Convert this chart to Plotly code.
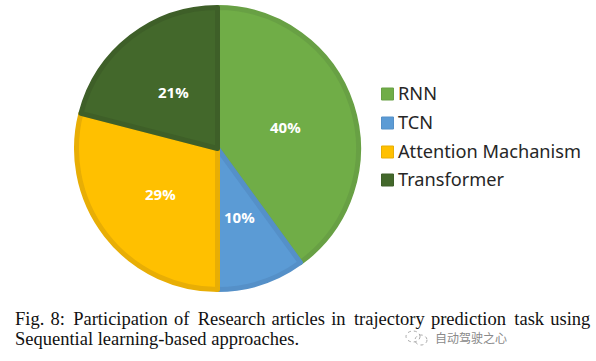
import plotly.graph_objects as go

labels = ["RNN", "TCN", "Attention Machanism", "Transformer"]
values = [40, 10, 29, 21]
fills = ["#70AD47", "#5B9BD5", "#FFC000", "#43682B"]
borders = ["#68A044", "#5590C8", "#E8AE05", "#3E5F28"]
label_pos = [(285, 127), (239, 217), (160, 194), (173, 92)]
legend_y = [94, 123, 152, 180]
caption_1 = "Fig. 8: Participation of Research articles in trajectory prediction task using"
caption_2 = "Sequential learning-based approaches."
watermark = "自动驾驶之心"

W, H = 596, 361
px = lambda x: x / W
py = lambda y: 1 - y / H

CX, CY, R = 217.5, 148.5, 141

fig = go.Figure(go.Pie(
    labels=labels, values=values, sort=False, direction="clockwise", rotation=0,
    marker=dict(colors=fills, line=dict(color=borders, width=5)),
    textinfo="none", hoverinfo="label+percent", showlegend=False,
    domain=dict(x=[px(CX - R), px(CX + R)], y=[py(CY + R), py(CY - R)]),
))

annotations = []
for v, (x, y) in zip(values, label_pos):
    annotations.append(dict(text=f"<b>{v}%</b>", x=px(x), y=py(y), xref="paper", yref="paper",
                            xanchor="center", yanchor="middle", showarrow=False,
                            font=dict(family="Open Sans", size=15, color="white")))
shapes = []
for name, fill, edge, y in zip(labels, fills, borders, legend_y):
    shapes.append(dict(type="rect", xref="paper", yref="paper", x0=px(381.5), x1=px(393.5),
                       y0=py(y + 6), y1=py(y - 6), fillcolor=fill, line=dict(color=edge, width=1)))
    annotations.append(dict(text=name, x=px(396), y=py(y - 1), xref="paper", yref="paper", xanchor="left",
                            yanchor="middle", showarrow=False,
                            font=dict(family="Noto Sans", size=18.2, color="#262626")))

# stretch the word gaps so the first caption line is justified like the reference
words = caption_1.split(" ")
justified = words[0]
for i, word in enumerate(words[1:]):
    justified += (" \u2009" if i % 5 in (1, 3) else " \u200a") + word

serif = dict(family="Liberation Serif", size=18.5, color="#111111")
annotations += [
    dict(text=justified, x=px(13), y=py(319), xref="paper", yref="paper",
         xanchor="left", yanchor="middle", showarrow=False, font=serif),
    dict(text=caption_2, x=px(13), y=py(339), xref="paper", yref="paper",
         xanchor="left", yanchor="middle", showarrow=False, font=serif),
    dict(text=watermark, x=px(433), y=py(337), xref="paper", yref="paper", xanchor="left",
         yanchor="middle", showarrow=False, font=dict(family="Noto Sans CJK SC", size=12, color="#8a8a8a")),
]
for x0, x1, y0, y1 in [(406, 420, 331, 342), (415, 427, 335, 345)]:
    shapes.append(dict(type="circle", xref="paper", yref="paper", x0=px(x0), x1=px(x1),
                       y0=py(y1), y1=py(y0), line=dict(color="#a8a8a8", width=1, dash="dot")))

fig.update_layout(
    width=W, height=H, margin=dict(l=0, r=0, t=0, b=0),
    paper_bgcolor="white", showlegend=False,
    annotations=annotations, shapes=shapes,
)
fig.write_html("out.html", post_script="document.body.style.margin='0';",
               config={"displayModeBar": False})
